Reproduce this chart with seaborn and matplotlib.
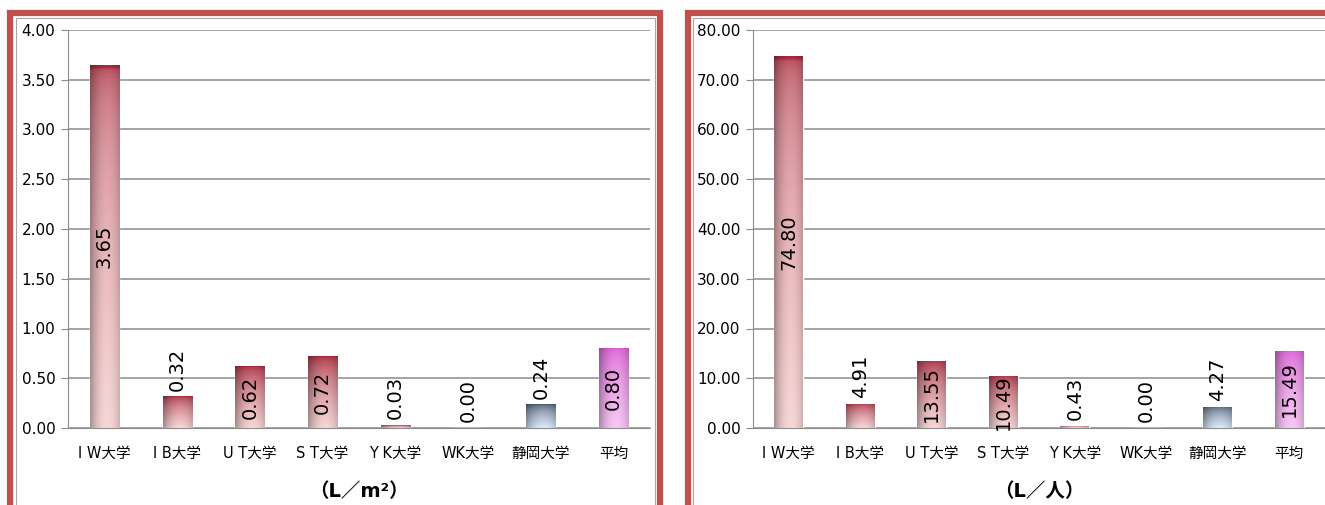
import numpy as np
import pandas as pd
import matplotlib
matplotlib.use("Agg")
import matplotlib.pyplot as plt
from matplotlib.patches import Rectangle
import seaborn as sns

# data
universities = ["I W大学", "I B大学", "U T大学", "S T大学", "Y K大学", "WK大学", "静岡大学", "平均"]
per_area = [3.65, 0.32, 0.62, 0.72, 0.03, 0.00, 0.24, 0.80]      # L/m2
per_person = [74.80, 4.91, 13.55, 10.49, 0.43, 0.00, 4.27, 15.49]  # L/person
unit_area = "（L／m²）"
unit_person = "（L／人）"

# top / bottom colours of each bar's gradient
red_top, red_bot = np.array([0.66, 0.16, 0.24]), np.array([0.97, 0.84, 0.84])
blue_top, blue_bot = np.array([0.28, 0.33, 0.42]), np.array([0.86, 0.92, 0.98])
pink_top, pink_bot = np.array([0.86, 0.38, 0.84]), np.array([0.97, 0.78, 0.96])
bar_shades = [(red_top, red_bot)] * 6 + [(blue_top, blue_bot), (pink_top, pink_bot)]

sns.set_style("white")
plt.rcParams["font.family"] = ["DejaVu Sans", "Noto Sans CJK JP"]
plt.rcParams["text.color"] = "black"
plt.rcParams["xtick.labelcolor"] = "black"
plt.rcParams["ytick.labelcolor"] = "black"
plt.rcParams["axes.labelcolor"] = "black"

W, H = 1325, 505
fig = plt.figure(figsize=(W / 100, H / 100), dpi=100)
fig.patch.set_facecolor("white")


def px(x0, y0, x1, y1):
    # pixel box (from top-left) -> figure fraction rect
    return [x0 / W, 1 - y1 / H, (x1 - x0) / W, (y1 - y0) / H]


def gradient(top, bot, tall, n=80):
    v = np.linspace(0, 1, n)[:, None, None] ** (0.3 if tall else 0.55)
    base = top * (1 - v) + bot * v
    h = np.linspace(0, 1, n)[None, :, None]
    f = 1 - 0.5 * ((h - 0.58) / 0.58) ** 2
    img = base * f + (1 - f) * base * 0.35
    return np.clip(img * np.ones((1, n, 1)), 0, 1)


def panel(rect, values, ymax, ystep, unit):
    ax = fig.add_axes(rect)
    df = pd.DataFrame({"univ": universities, "val": values})
    sns.barplot(data=df, x="univ", y="val", hue="univ", palette=[s[1] for s in bar_shades],
                width=0.4, legend=False, ax=ax, zorder=3)
    for p, (t, b) in zip(ax.patches, bar_shades):
        x0, y0 = p.get_x(), p.get_y()
        w, hgt = p.get_width(), p.get_height()
        if hgt <= 0:
            continue
        im = ax.imshow(gradient(t, b, hgt / ymax > 0.5), extent=[x0, x0 + w, y0, y0 + hgt],
                       aspect="auto", origin="upper", zorder=4)
        im.set_clip_path(p)
    ax.set_xlim(-0.5, 7.5)
    ax.set_ylim(0, ymax)
    ax.set_yticks(np.arange(0, ymax + ystep / 2, ystep))
    ax.set_yticklabels([f"{v:.2f}" for v in np.arange(0, ymax + ystep / 2, ystep)], fontsize=11)
    ax.yaxis.grid(True, color="#8c8c8c", linewidth=1.1)
    ax.set_axisbelow(True)
    ax.set_xticks(np.arange(-0.5, 8, 1), minor=True)
    ax.tick_params(axis="x", which="major", length=0, pad=13, labelsize=10.5)
    ax.tick_params(axis="x", which="minor", length=5, color="#8c8c8c")
    ax.tick_params(axis="y", length=5, color="#8c8c8c", pad=4, left=True)
    ax.set_xlabel(unit, fontsize=14, fontweight="bold", labelpad=15)
    ax.set_ylabel("")
    for s in ["top", "right"]:
        ax.spines[s].set_visible(False)
    for s in ["left", "bottom"]:
        ax.spines[s].set_color("#8c8c8c")
    for i, v in enumerate(values):
        if v / ymax > 0.1:
            ax.text(i, v / 2, f"{v:.2f}", rotation=90, ha="center", va="center",
                    fontsize=14, zorder=6)
        else:
            ax.annotate(f"{v:.2f}", (i, v), xytext=(0, 4), textcoords="offset points",
                        rotation=90, ha="center", va="bottom", fontsize=14, zorder=6)
    return ax


panel(px(68, 30, 650, 428), per_area, 4.0, 0.5, unit_area)
panel(px(753, 30, 1325, 428), per_person, 80.0, 10.0, unit_person)

# red frames round the two charts
for x0, x1 in [(10.5, 659.5), (687.5, 1340)]:
    fig.patches.append(Rectangle((x0 / W, -0.05), (x1 - x0) / W, 1.05 - 12.5 / H,
                                 transform=fig.transFigure, fill=False,
                                 edgecolor="#c0504d", linewidth=4.5, zorder=0))
    fig.patches.append(Rectangle(((x0 + 5) / W, -0.05), (x1 - x0 - 10) / W, 1.05 - 17.5 / H,
                                 transform=fig.transFigure, fill=False,
                                 edgecolor="#a8a8a8", linewidth=0.8, zorder=0))

fig.savefig("out.png", dpi=100, facecolor="white")
